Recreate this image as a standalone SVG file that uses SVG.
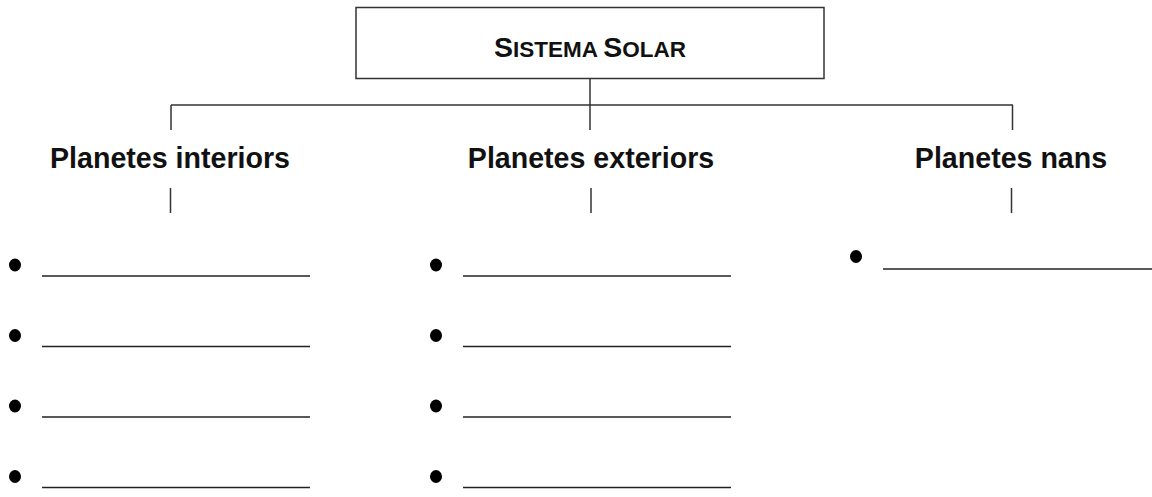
<svg xmlns="http://www.w3.org/2000/svg" width="1152" height="497" viewBox="0 0 1152 497">
<style>
.box{fill:#fff;stroke:#333;stroke-width:1.5}
.conn{stroke:#333;stroke-width:1.5;fill:none}
.head{font-family:"Liberation Sans",Arial,sans-serif;font-weight:bold;font-size:28.6px;fill:#111;text-anchor:middle}
.title{font-family:"Liberation Sans",Arial,sans-serif;font-weight:bold;fill:#111;text-anchor:middle}
.blank{stroke:#222;stroke-width:1.6}
.dot{fill:#000}
</style>
<rect width="1152" height="497" fill="#fff"/>
<g id="root">
<rect class="box" x="356" y="7.5" width="468" height="71"/>
<text class="title" x="590" y="57"><tspan font-size="28.5">S</tspan><tspan font-size="22.5">ISTEMA</tspan><tspan font-size="22.5"> </tspan><tspan font-size="28.5">S</tspan><tspan font-size="22.5">OLAR</tspan></text>
</g>
<g id="connectors">
<line class="conn" x1="590" y1="79" x2="590" y2="130"/>
<line class="conn" x1="171" y1="105" x2="1013" y2="105"/>
<line class="conn" x1="171" y1="105" x2="171" y2="130"/>
<line class="conn" x1="1012.5" y1="105" x2="1012.5" y2="130"/>
<line class="conn" x1="170.5" y1="188" x2="170.5" y2="213"/>
<line class="conn" x1="591" y1="188" x2="591" y2="213"/>
<line class="conn" x1="1011.5" y1="188" x2="1011.5" y2="213"/>
</g>
<g id="interiors">
<text class="head" x="170" y="168">Planetes interiors</text>
<ellipse class="dot" cx="15" cy="265" rx="6" ry="6.5"/><line class="blank" x1="42" y1="276" x2="310" y2="276"/>
<ellipse class="dot" cx="15" cy="335.5" rx="6" ry="6.5"/><line class="blank" x1="42" y1="346.5" x2="310" y2="346.5"/>
<ellipse class="dot" cx="15" cy="406" rx="6" ry="6.5"/><line class="blank" x1="42" y1="417" x2="310" y2="417"/>
<ellipse class="dot" cx="15" cy="476.5" rx="6" ry="6.5"/><line class="blank" x1="42" y1="487.5" x2="310" y2="487.5"/>
</g>
<g id="exteriors">
<text class="head" x="591" y="168">Planetes exteriors</text>
<ellipse class="dot" cx="436" cy="265" rx="6" ry="6.5"/><line class="blank" x1="463" y1="276" x2="731" y2="276"/>
<ellipse class="dot" cx="436" cy="335.5" rx="6" ry="6.5"/><line class="blank" x1="463" y1="346.5" x2="731" y2="346.5"/>
<ellipse class="dot" cx="436" cy="406" rx="6" ry="6.5"/><line class="blank" x1="463" y1="417" x2="731" y2="417"/>
<ellipse class="dot" cx="436" cy="476.5" rx="6" ry="6.5"/><line class="blank" x1="463" y1="487.5" x2="731" y2="487.5"/>
</g>
<g id="nans">
<text class="head" x="1011" y="168">Planetes nans</text>
<ellipse class="dot" cx="856" cy="256.5" rx="6" ry="6.5"/><line class="blank" x1="883" y1="269" x2="1152" y2="269"/>
</g>
</svg>
